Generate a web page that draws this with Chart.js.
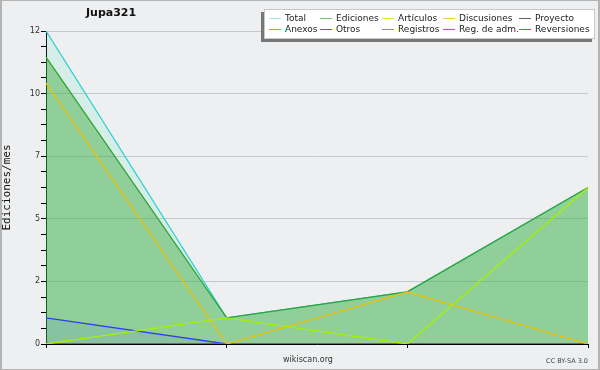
<!DOCTYPE html>
<html>
<head>
<meta charset="utf-8">
<script src="https://cdn.jsdelivr.net/npm/chart.js@4.4.1/dist/chart.umd.min.js"></script>
<style>
  body { margin: 0; background: #eeeff0; }
  #wrap { position: relative; width: 600px; height: 370px; font-family: "DejaVu Sans", sans-serif; }
  #frame { position: absolute; left: 0; top: 0; width: 600px; height: 370px; box-sizing: border-box;
           border: 1px solid #b4b4b4; border-left-width: 2px; border-right-width: 2px; pointer-events: none; }
  #title { position: absolute; left: 86px; top: 6px; font-weight: bold; font-size: 11px; color: #111; }
  #legend { position: absolute; left: 264px; top: 9px; width: 329px; height: 28px; background: #fff;
            border: 1px solid #c8c8c8; box-shadow: -3px 3px 0 #777; }
  .item { position: absolute; font-size: 9px; color: #222; white-space: nowrap; line-height: 10px; }
  .item i { display: inline-block; width: 12px; height: 0; border-top: 1.5px solid; vertical-align: middle; margin-right: 4px; }
  #site { position: absolute; left: 0; width: 616px; top: 355px; text-align: center; font-size: 8px; color: #333; }
  #lic { position: absolute; right: 12px; top: 357px; font-size: 6.5px; color: #444; }
</style>
</head>
<body>
<div id="wrap">
  <canvas id="chart" width="600" height="370"></canvas>
  <div id="title">Jupa321</div>
  <div id="legend"></div>
  <div id="site">wikiscan.org</div>
  <div id="lic">CC BY-SA 3.0</div>
  <div id="frame"></div>
</div>
<script>
// monthly edit counts
const months = ["mes 1", "mes 2", "mes 3", "mes 4"];
const total       = [12, 1, 2, 6];
const ediciones   = [11, 1, 2, 6];
const articulos   = [0, 1, 0, 6];
const discusiones = [10, 0, 2, 0];
const proyecto    = [0, 0, 0, 0];
const anexos      = [0, 0, 0, 0];
const otros       = [0, 0, 0, 0];
const registros   = [1, 0, 0, 0];
const regAdm      = [0, 0, 0, 0];
const reversiones = [0, 0, 0, 0];

const yMax = 12;
const yMajorTicks = [0, 2.4, 4.8, 7.2, 9.6, 12];
const minorPerMajor = 4;

const series = [
  { label: "Total", data: total, line: "#2fd2d2", key: "#a0e8e8", fill: "rgba(64,224,176,0.13)", order: 3 },
  { label: "Ediciones", data: ediciones, line: "#2fa332", key: "#70c870", fill: "rgba(52,168,52,0.44)", order: 2 },
  { label: "Artículos", data: articulos, line: "#a8ee00", key: "#c8f040", order: 0 },
  { label: "Discusiones", data: discusiones, line: "#f0c000", key: "#f8c840", order: 0 },
  { label: "Proyecto", data: proyecto, line: "#606060", key: "#606060", order: 0 },
  { label: "Anexos", data: anexos, line: "#f08040", key: "#f08040", order: 0 },
  { label: "Otros", data: otros, line: "#8040e0", key: "#8040e0", order: 0 },
  { label: "Registros", data: registros, line: "#2a3ff0", key: "#8080f8", fill: "rgba(60,80,240,0.10)", order: 1 },
  { label: "Reg. de adm.", data: regAdm, line: "#e040e0", key: "#e040e0", order: 0 },
  { label: "Reversiones", data: reversiones, line: "#f04040", key: "#f04040", order: 0 }
];

// legend box, two rows of five
const colX = [4, 55, 117, 178, 254];
const legend = document.getElementById("legend");
series.forEach((s, i) => {
  const el = document.createElement("div");
  el.className = "item";
  el.style.left = colX[i % 5] + "px";
  el.style.top = (i < 5 ? 3 : 14) + "px";
  el.innerHTML = '<i style="border-color:' + s.key + '"></i>' + s.label;
  legend.appendChild(el);
});

const isMajor = v => yMajorTicks.some(m => Math.abs(m - v) < 1e-6);

const ctx = document.getElementById("chart").getContext("2d");
new Chart(ctx, {
  type: "line",
  data: {
    labels: months,
    datasets: series.map(s => ({
      label: s.label,
      data: s.data,
      borderColor: s.line,
      backgroundColor: s.fill || "transparent",
      fill: s.fill ? "origin" : false,
      order: s.order,
      borderWidth: 1.3,
      pointRadius: 0,
      tension: 0
    }))
  },
  options: {
    responsive: false,
    animation: false,
    layout: { padding: { top: 31, right: 12, left: 0, bottom: 0 } },
    plugins: {
      legend: { display: false },
      tooltip: { enabled: false },
      filler: { drawTime: "beforeDatasetsDraw" }
    },
    scales: {
      x: {
        z: 1,
        offset: false,
        ticks: { display: false },
        grid: { drawOnChartArea: false, tickLength: 4, color: "#000", tickColor: "#000" },
        border: { color: "#000", width: 1 },
        afterFit: s => { s.height = 26; }
      },
      y: {
        min: 0,
        max: yMax,
        afterFit: s => { s.width = 46; },
        afterBuildTicks: axis => {
          const ticks = [];
          for (let i = 0; i < yMajorTicks.length - 1; i++) {
            const step = (yMajorTicks[i + 1] - yMajorTicks[i]) / minorPerMajor;
            for (let k = 0; k < minorPerMajor; k++) ticks.push({ value: yMajorTicks[i] + k * step });
          }
          ticks.push({ value: yMajorTicks[yMajorTicks.length - 1] });
          axis.ticks = ticks;
        },
        ticks: {
          autoSkip: false,
          padding: 1,
          color: "#333",
          font: { family: "DejaVu Sans", size: 8 },
          callback: v => isMajor(v) ? String(Math.round(v)) : ""
        },
        grid: {
          color: c => (c.tick && isMajor(c.tick.value)) ? "#c8c8c8" : "transparent",
          tickColor: "#000",
          tickLength: 5
        },
        border: { color: "#000", width: 1 },
        title: {
          display: true,
          text: "Ediciones/mes",
          color: "#111",
          font: { family: "DejaVu Sans Mono", size: 11 },
          padding: { top: 1, bottom: 0 }
        }
      }
    }
  }
});
</script>
</body>
</html>
